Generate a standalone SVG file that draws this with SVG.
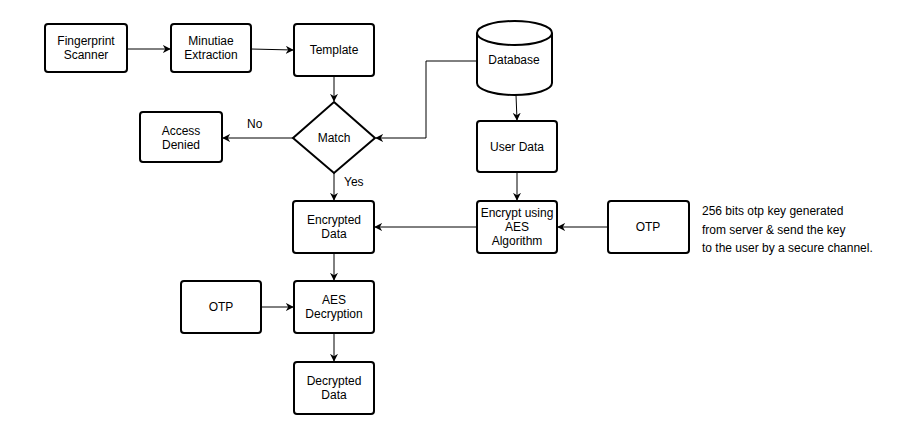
<svg xmlns="http://www.w3.org/2000/svg" width="905" height="448" viewBox="0 0 905 448">
<style>
.box{fill:#fff;stroke:#000;stroke-width:2}
.t{font-family:"Liberation Sans",Arial,sans-serif;font-size:12px;fill:#000;text-anchor:middle}
.n{font-family:"Liberation Sans",Arial,sans-serif;font-size:12px;fill:#000}
.c{fill:none;stroke:#000;stroke-width:1}
</style>
<defs>
<marker id="a" viewBox="0 0 10 10" refX="9" refY="5" markerWidth="8" markerHeight="8" markerUnits="userSpaceOnUse" orient="auto">
<path d="M0,0 L10,5 L0,10 L3,5 Z" fill="#000"/>
</marker>
</defs>
<rect width="905" height="448" fill="#fff"/>
<g id="connectors">
<path class="c" d="M127,49 L170,49" marker-end="url(#a)"/>
<path class="c" d="M251,49 L293,50" marker-end="url(#a)"/>
<path class="c" d="M334,76 L334,101" marker-end="url(#a)"/>
<path class="c" d="M293,138 L223,138" marker-end="url(#a)"/>
<path class="c" d="M477,61 L426,61 L426,138 L376,138" marker-end="url(#a)"/>
<path class="c" d="M334,173 L334,200" marker-end="url(#a)"/>
<path class="c" d="M516,95 L517,120" marker-end="url(#a)"/>
<path class="c" d="M517,172 L517,200" marker-end="url(#a)"/>
<path class="c" d="M477,227 L375,227" marker-end="url(#a)"/>
<path class="c" d="M608,227 L558,227" marker-end="url(#a)"/>
<path class="c" d="M334,253 L334,280" marker-end="url(#a)"/>
<path class="c" d="M261,307 L293,307" marker-end="url(#a)"/>
<path class="c" d="M334,333 L334,361" marker-end="url(#a)"/>
<text class="n" x="247" y="128">No</text>
<text class="n" x="344" y="186">Yes</text>
</g>
<g id="fingerprint-scanner">
<rect class="box" x="45" y="24" width="82" height="48" rx="3"/>
<text class="t" x="86" y="45">Fingerprint</text>
<text class="t" x="86" y="59">Scanner</text>
</g>
<g id="minutiae-extraction">
<rect class="box" x="171" y="24" width="80" height="48" rx="3"/>
<text class="t" x="211" y="45">Minutiae</text>
<text class="t" x="211" y="59">Extraction</text>
</g>
<g id="template">
<rect class="box" x="294" y="24" width="80" height="52" rx="3"/>
<text class="t" x="334" y="54">Template</text>
</g>
<g id="match">
<path class="box" d="M334,102 L375,138 L334,173 L293,138 Z"/>
<text class="t" x="334" y="142">Match</text>
</g>
<g id="access-denied">
<rect class="box" x="140" y="112" width="82" height="50" rx="3"/>
<text class="t" x="181" y="135">Access</text>
<text class="t" x="181" y="149">Denied</text>
</g>
<g id="database">
<path class="box" d="M477,33 L477,83 A37.5,12 0 0 0 552,83 L552,33 A37.5,12 0 0 0 477,33 Z"/>
<path class="c" style="stroke-width:2" d="M477,33 A37.5,12 0 0 0 552,33"/>
<text class="t" x="514" y="64">Database</text>
</g>
<g id="user-data">
<rect class="box" x="477" y="121" width="80" height="51" rx="3"/>
<text class="t" x="517" y="151">User Data</text>
</g>
<g id="encrypted-data">
<rect class="box" x="293" y="201" width="81" height="52" rx="3"/>
<text class="t" x="334" y="224">Encrypted</text>
<text class="t" x="334" y="238">Data</text>
</g>
<g id="encrypt-aes">
<rect class="box" x="477" y="201" width="80" height="52" rx="3"/>
<text class="t" x="517" y="217">Encrypt using</text>
<text class="t" x="517" y="231">AES</text>
<text class="t" x="517" y="245">Algorithm</text>
</g>
<g id="otp-top">
<rect class="box" x="608" y="201" width="81" height="52" rx="3"/>
<text class="t" x="648" y="231">OTP</text>
</g>
<g id="note">
<text class="n" x="702" y="215">256 bits otp key generated</text>
<text class="n" x="702" y="234">from server &amp; send the key</text>
<text class="n" x="702" y="252">to the user by a secure channel.</text>
</g>
<g id="otp-bottom">
<rect class="box" x="181" y="281" width="80" height="52" rx="3"/>
<text class="t" x="221" y="311">OTP</text>
</g>
<g id="aes-decryption">
<rect class="box" x="294" y="281" width="80" height="52" rx="3"/>
<text class="t" x="334" y="304">AES</text>
<text class="t" x="334" y="318">Decryption</text>
</g>
<g id="decrypted-data">
<rect class="box" x="294" y="362" width="80" height="52" rx="3"/>
<text class="t" x="334" y="385">Decrypted</text>
<text class="t" x="334" y="399">Data</text>
</g>
</svg>
